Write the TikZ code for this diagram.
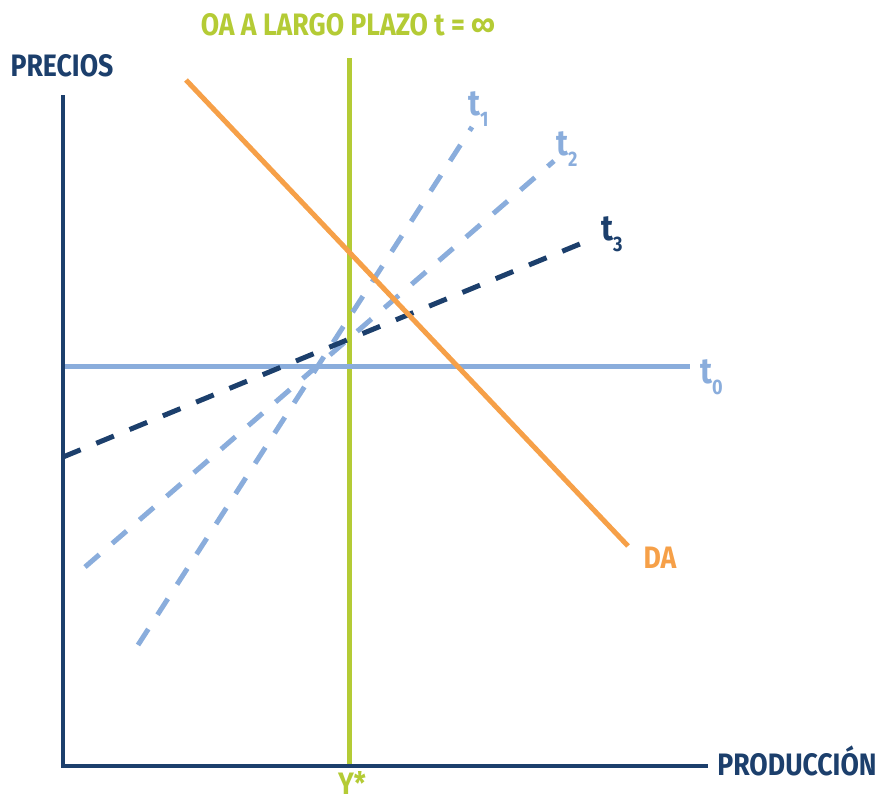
\documentclass[tikz,border=0pt]{standalone}
\usepackage{fontspec}
\setmainfont{Fira Sans}[FakeStretch=0.86]
\newcommand{\tsub}[1]{\raisebox{-11pt}{\fontsize{21}{21}\selectfont #1}}
\begin{document}
\begin{tikzpicture}[x=1pt,y=-1pt,
  lbl/.style={font=\fontsize{31}{34}\selectfont\bfseries, inner sep=0pt, anchor=base},
  tlbl/.style={font=\fontsize{36}{38}\selectfont\bfseries, inner sep=0pt, anchor=base west},
  axisline/.style={draw=navy, line width=4.7pt},
  dashline/.style={line width=5pt, dash pattern=on 19pt off 17pt}]
\definecolor{navy}{HTML}{1C3F6C}
\definecolor{lime}{HTML}{B4CB35}
\definecolor{lblue}{HTML}{8AADDC}
\definecolor{orangeda}{HTML}{F6A048}
\useasboundingbox (0,0) rectangle (876,801);
% coordinates
\coordinate (ytop) at (63,95);
\coordinate (orig) at (63,766);
\coordinate (xend) at (708,766);
\coordinate (gtop) at (349,58);
\coordinate (gbot) at (349,766);
\coordinate (t0a) at (63,366);
\coordinate (t0b) at (690,366);
\coordinate (daa) at (186,80);
\coordinate (dab) at (628,546);
\coordinate (t3a) at (63,457);
\coordinate (t3b) at (592,239);
\coordinate (t2a) at (85,567);
\coordinate (t2b) at (554,161);
\coordinate (t1a) at (138,645);
\coordinate (t1b) at (472,127);
% lines
\draw[lime, line width=5pt] (gtop) -- (gbot);
\draw[lblue, line width=5pt] (t0a) -- (t0b);
\draw[lblue, dashline] (t1a) -- (t1b);
\draw[lblue, dashline] (t2a) -- (t2b);
\draw[navy, dashline] (t3a) -- (t3b);
\draw[orangeda, line width=5pt] (daa) -- (dab);
\draw[axisline] (ytop) -- (orig) -- (xend);
% labels
\node[lbl, text=lime] (title) at (348,35) {OA A LARGO PLAZO t = ∞};
\node[lbl, text=navy] (precios) at (62,76) {PRECIOS};
\node[lbl, text=navy] (prod) at (797,775) {PRODUCCIÓN};
\node[lbl, text=lime] (ystar) at (352,794) {Y*};
\node[lbl, text=orangeda] (da) at (660,568) {DA};
\node[tlbl, text=lblue] (lt0) at (700,383) {t\tsub{0}};
\node[tlbl, text=lblue] (lt1) at (468,115) {t\tsub{1}};
\node[tlbl, text=lblue] (lt2) at (556,155) {t\tsub{2}};
\node[tlbl, text=navy] (lt3) at (601,240) {t\tsub{3}};
\end{tikzpicture}
\end{document}
